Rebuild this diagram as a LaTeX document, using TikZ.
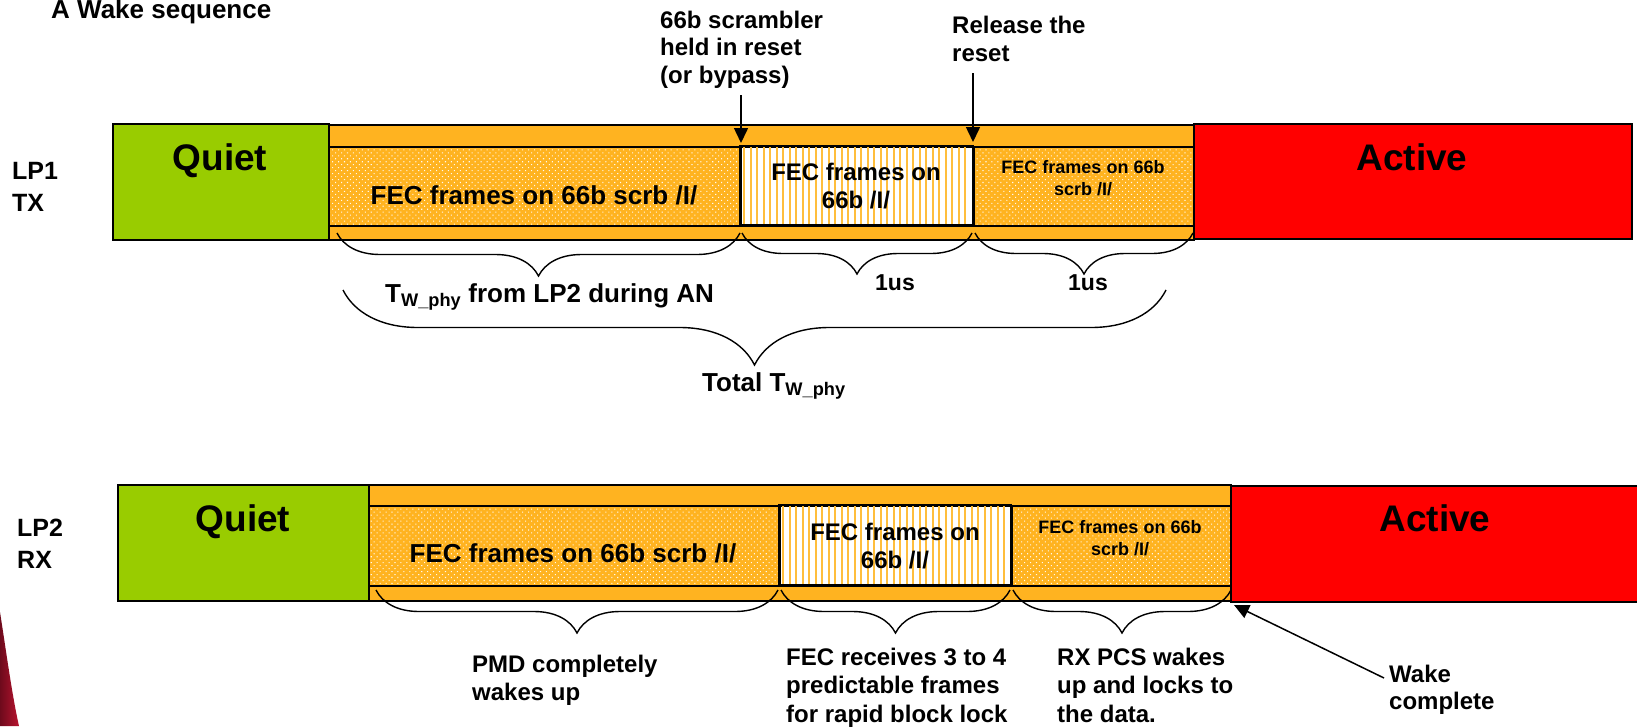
\documentclass[tikz,border=0pt]{standalone}
\usepackage{fontspec}
\setmainfont{Liberation Sans}
\usetikzlibrary{patterns.meta,decorations.pathreplacing,arrows.meta}

\definecolor{quietgreen}{HTML}{99CC00}
\definecolor{wakeorange}{HTML}{FFB320}
\definecolor{stripeorange}{HTML}{FFBE3C}
\definecolor{activered}{HTML}{FF0000}
\definecolor{swooshdark}{HTML}{6E0A1C}
\definecolor{swooshlight}{HTML}{B8142F}

\tikzset{
  frame/.style={draw=black, line width=1.6pt, inner sep=0pt, anchor=north west},
  quietbox/.style={frame, fill=quietgreen},
  activebox/.style={frame, fill=activered},
  bandbox/.style={frame, fill=wakeorange},
  dotbox/.style={frame, preaction={fill=wakeorange},
    pattern={Dots[distance=4.2pt,angle=45,radius=0.75pt]}, pattern color=white!92!wakeorange},
  stripebox/.style={frame, fill=white},
  stripe/.style={stripeorange, line width=2pt},
  txt/.style={inner sep=0pt, font=\bfseries\fontsize{24}{28}\selectfont},
  txtbig/.style={inner sep=0pt, anchor=base, font=\bfseries\fontsize{37}{40}\selectfont},
  txtmid/.style={inner sep=0pt, font=\bfseries\fontsize{26}{30}\selectfont},
  txtsmall/.style={inner sep=0pt, font=\bfseries\fontsize{18}{22}\selectfont},
  span/.style={decorate, decoration={brace, mirror, amplitude=#1}, line width=1.4pt},
  marker/.style={-{Triangle[length=15pt,width=14pt]}, line width=1.5pt},
}

\begin{document}
\begin{tikzpicture}[x=1pt,y=-1pt]
\useasboundingbox (0,0) rectangle (1637,726);

% corner decoration
\shade[left color=swooshdark, right color=swooshlight]
  (0,612) .. controls (6,650) and (12,695) .. (19,726) -- (0,726) -- cycle;

% title
\node[txt, anchor=base west, font=\bfseries\fontsize{26}{28}\selectfont] (title) at (51,18) {A Wake sequence};

% ---------- LP1 / TX ----------
\node[txt, anchor=north west, align=left, font=\bfseries\fontsize{25}{32}\selectfont] (lp1) at (12,162) {LP1\\TX};

\node[bandbox, minimum width=865pt, minimum height=115pt] (band1) at (328,124) {};
\node[dotbox, minimum width=412pt, minimum height=79pt] (d1a) at (328,146) {};
\node[stripebox, minimum width=233pt, minimum height=79pt] (s1) at (740,146) {};
\begin{scope}
  \clip (740,146) rectangle (973,225);
  \foreach \x in {744,750.5,...,970} \draw[stripe] (\x,146) -- (\x,225);
\end{scope}
\draw[line width=1.6pt] (740,146) rectangle (973,225);
\node[dotbox, minimum width=220pt, minimum height=79pt] (d1b) at (973,146) {};
\node[quietbox, minimum width=216pt, minimum height=116pt] (q1) at (112,123) {};
\node[activebox, minimum width=438pt, minimum height=115pt] (r1) at (1193,123) {};

\node[txtbig] (q1t) at (220,170) {Quiet};
\node[txtbig] (r1t) at (1412,170) {Active};
\node[txtmid, anchor=base] (d1at) at (534,204) {FEC frames on 66b scrb /I/};
\node[txt, anchor=north, align=center] (s1t) at (856,162.5) {FEC frames on\\66b /I/};
\node[txtsmall, anchor=north, align=center] (d1bt) at (1083,160) {FEC frames on 66b\\scrb /I/};

% annotations above LP1
\node[txt, anchor=north west, align=left, font=\bfseries\fontsize{24}{27.5}\selectfont] (scr) at (660,10.5) {66b scrambler\\held in reset\\(or bypass)};
\node[txt, anchor=north west, align=left] (rel) at (952,15.5) {Release the\\reset};
\coordinate (scrfrom) at (741,95);
\coordinate (scrto) at (741,143);
\coordinate (relfrom) at (973,73);
\coordinate (relto) at (973,142);
\draw[marker] (scrfrom) -- (scrto);
\draw[marker] (relfrom) -- (relto);

% braces below LP1
\coordinate (b1aL) at (337,233); \coordinate (b1aR) at (740,233);
\coordinate (b1bL) at (742,233); \coordinate (b1bR) at (972,233);
\coordinate (b1cL) at (975,233); \coordinate (b1cR) at (1193,233);
\coordinate (btL) at (343,290);  \coordinate (btR) at (1166,290);
\draw[span=43pt] (b1aL) -- (b1aR);
\draw[span=41pt] (b1bL) -- (b1bR);
\draw[span=41pt] (b1cL) -- (b1cR);
\draw[span=75pt] (btL) -- (btR);

\node[txtmid, anchor=base west] (tw) at (385,302) {T\textsubscript{W\_phy} from LP2 during AN};
\node[txt, anchor=base, font=\bfseries\fontsize{23}{28}\selectfont] (us1) at (895,290) {1us};
\node[txt, anchor=base, font=\bfseries\fontsize{23}{28}\selectfont] (us2) at (1088,290) {1us};
\node[txtmid, anchor=base west] (total) at (702,391) {Total T\textsubscript{W\_phy}};

% ---------- LP2 / RX ----------
\node[txt, anchor=north west, align=left, font=\bfseries\fontsize{25}{32}\selectfont] (lp2) at (17,519) {LP2\\RX};

\node[bandbox, minimum width=862pt, minimum height=116pt] (band2) at (368,484) {};
\node[dotbox, minimum width=411pt, minimum height=80pt] (d2a) at (368,505) {};
\node[stripebox, minimum width=232pt, minimum height=80pt] (s2) at (779,505) {};
\begin{scope}
  \clip (779,505) rectangle (1011,585);
  \foreach \x in {783,789.5,...,1008} \draw[stripe] (\x,505) -- (\x,585);
\end{scope}
\draw[line width=1.6pt] (779,505) rectangle (1011,585);
\node[dotbox, minimum width=219pt, minimum height=80pt] (d2b) at (1011,505) {};
\node[quietbox, minimum width=251pt, minimum height=116pt] (q2) at (117,484) {};
\node[activebox, minimum width=420pt, minimum height=116pt] (r2) at (1230,485) {};

\node[txtbig] (q2t) at (243,531) {Quiet};
\node[txtbig] (r2t) at (1435,531) {Active};
\node[txtmid, anchor=base] (d2at) at (573,562) {FEC frames on 66b scrb /I/};
\node[txt, anchor=north, align=center] (s2t) at (895,522.5) {FEC frames on\\66b /I/};
\node[txtsmall, anchor=north, align=center] (d2bt) at (1120,520) {FEC frames on 66b\\scrb /I/};

% braces below LP2
\coordinate (b2aL) at (376,590); \coordinate (b2aR) at (778,590);
\coordinate (b2bL) at (781,590); \coordinate (b2bR) at (1010,590);
\coordinate (b2cL) at (1013,590); \coordinate (b2cR) at (1231,590);
\draw[span=43pt] (b2aL) -- (b2aR);
\draw[span=43pt] (b2bL) -- (b2bR);
\draw[span=43pt] (b2cL) -- (b2cR);

\node[txt, anchor=north west, align=left] (pmd) at (472,654.5) {PMD completely\\wakes up};
\node[txt, anchor=north west, align=left, font=\bfseries\fontsize{24}{28.5}\selectfont] (fecr) at (786,647.5) {FEC receives 3 to 4\\predictable frames\\for rapid block lock};
\node[txt, anchor=north west, align=left, font=\bfseries\fontsize{24}{28.5}\selectfont] (rxpcs) at (1057,647.5) {RX PCS wakes\\up and locks to\\the data.};
\node[txt, anchor=north west, align=left, font=\bfseries\fontsize{24}{27}\selectfont] (wake) at (1389,664.5) {Wake\\complete};

\coordinate (wakefrom) at (1384,678);
\coordinate (waketo) at (1234,605);
\draw[marker] (wakefrom) -- (waketo);
\end{tikzpicture}
\end{document}
